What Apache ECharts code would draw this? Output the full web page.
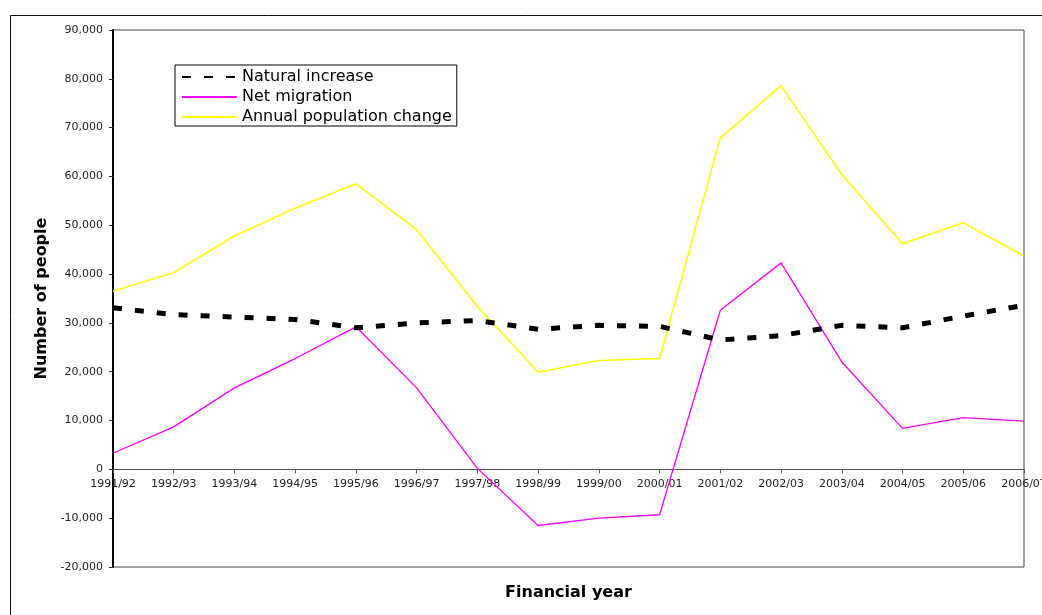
<!DOCTYPE html>
<html>
<head>
<meta charset="utf-8">
<script src="https://cdn.jsdelivr.net/npm/echarts@6/dist/echarts.min.js"></script>
<style>
html,body{margin:0;padding:0;background:#fff;}
#chart{width:1042px;height:615px;}
</style>
</head>
<body>
<div id="chart"></div>
<script>
const categories = ['1991/92','1992/93','1993/94','1994/95','1995/96','1996/97','1997/98','1998/99','1999/00','2000/01','2001/02','2002/03','2003/04','2004/05','2005/06','2006/07'];
const naturalIncrease = [33100, 31700, 31200, 30700, 29000, 30000, 30500, 28700, 29500, 29300, 26500, 27400, 29500, 29000, 31400, 33600];
const netMigration = [3300, 8700, 16700, 22700, 29200, 16700, 200, -11500, -10000, -9300, 32600, 42300, 22000, 8400, 10600, 9900];
const annualChange = [36500, 40300, 47800, 53500, 58500, 49100, 33400, 19900, 22300, 22700, 67900, 78600, 60400, 46200, 50500, 43700];
const seriesNames = ['Natural increase', 'Net migration', 'Annual population change'];

const FONT = 'DejaVu Sans';
const GRID_BOTTOM = 48;
const chart = echarts.init(document.getElementById('chart'), null, {renderer: 'canvas'});

function fmt(v) {
  const s = Math.abs(v).toString().replace(/\B(?=(\d{3})+(?!\d))/g, ',');
  return (v < 0 ? '-' : '') + s;
}

chart.setOption({
  animation: false,
  backgroundColor: '#fff',
  textStyle: {fontFamily: FONT},
  graphic: [{
    type: 'rect',
    shape: {x: 10.5, y: 15.5, width: 1100, height: 700},
    style: {fill: 'none', stroke: '#111', lineWidth: 1},
    z: -1
  }],
  grid: {
    left: 113, right: 18, top: 30, bottom: GRID_BOTTOM,
    containLabel: false,
    outerBoundsMode: 'none',
    show: true, borderColor: '#444', borderWidth: 1, backgroundColor: 'transparent'
  },
  legend: {
    orient: 'vertical',
    left: 175, top: 65,
    padding: [4, 5, 1, 6],
    itemGap: 4,
    itemWidth: 55,
    itemHeight: 20,
    borderColor: '#000', borderWidth: 1,
    backgroundColor: '#fff',
    itemStyle: {opacity: 0},
    textStyle: {fontFamily: FONT, fontSize: 16, color: '#000'},
    data: seriesNames
  },
  xAxis: {
    type: 'category',
    data: categories,
    boundaryGap: false,
    position: 'bottom',
    offset: 0,
    name: 'Financial year',
    nameLocation: 'middle',
    nameGap: 115,
    nameTextStyle: {fontFamily: FONT, fontSize: 16, fontWeight: 'bold', color: '#000'},
    axisLine: {onZero: false, lineStyle: {color: '#555', width: 1}},
    axisTick: {show: true, length: 4, inside: false, lineStyle: {color: '#555'}},
    axisLabel: {fontFamily: FONT, fontSize: 11, color: '#222', margin: 9, interval: 0, showMaxLabel: true, hideOverlap: false},
    splitLine: {show: false}
  },
  yAxis: {
    type: 'value',
    min: -20000, max: 90000, interval: 10000,
    name: 'Number of people',
    nameLocation: 'middle',
    nameGap: 60,
    nameTextStyle: {fontFamily: FONT, fontSize: 16, fontWeight: 'bold', color: '#000'},
    axisLine: {show: true, lineStyle: {color: '#000', width: 2}},
    axisTick: {show: true, length: 4, lineStyle: {color: '#333'}},
    axisLabel: {fontFamily: FONT, fontSize: 11, color: '#222', margin: 10, formatter: fmt},
    splitLine: {show: false}
  },
  series: [
    {
      name: seriesNames[0], type: 'line', data: naturalIncrease,
      symbol: 'none', z: 3,
      lineStyle: {color: '#000', width: 5, type: [9, 13]},
      itemStyle: {color: '#000'}
    },
    {
      name: seriesNames[1], type: 'line', data: netMigration,
      symbol: 'none', z: 2,
      lineStyle: {color: '#FF00FF', width: 1.3},
      itemStyle: {color: '#FF00FF'}
    },
    {
      name: seriesNames[2], type: 'line', data: annualChange,
      symbol: 'none', z: 2,
      lineStyle: {color: '#FFFF00', width: 1.5},
      itemStyle: {color: '#FFFF00'}
    }
  ]
});

// Place the category axis on the zero line (value 0 of the y axis).
const yZero = chart.convertToPixel({yAxisIndex: 0}, 0);
const gridBottomPx = chart.getHeight() - GRID_BOTTOM;
chart.setOption({xAxis: {offset: yZero - gridBottomPx}});
</script>
</body>
</html>
